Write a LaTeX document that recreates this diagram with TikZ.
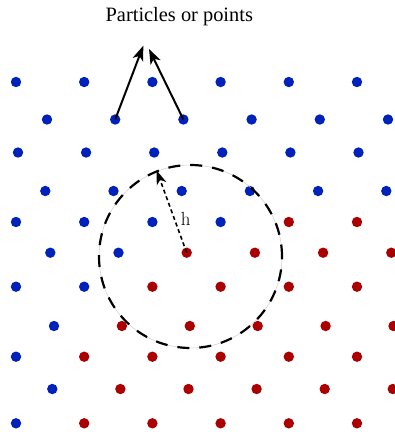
\documentclass[tikz,border=0pt]{standalone}
\usepackage{fontspec}
\newfontfamily\titlefont{Liberation Serif}
\usetikzlibrary{arrows.meta}
\definecolor{pblue}{RGB}{0,34,187}
\definecolor{pred}{RGB}{170,0,0}
\tikzset{
  dot/.style={circle, inner sep=0pt, minimum size=10.4pt, draw=none},
  ptr/.style={line width=2pt, -{Stealth[length=15pt, width=11pt, inset=4pt]}},
  radius line/.style={line width=1.6pt, dash pattern=on 4pt off 3pt, -{Stealth[length=14pt, width=10pt, inset=4pt]}},
  kernel/.style={line width=2.2pt, dash pattern=on 12pt off 10pt},
}
\begin{document}
\begin{tikzpicture}[x=1pt, y=-1pt]
\useasboundingbox (0,0) rectangle (395,432);
\foreach [count=\r] \y/\xa/\dx/\nb in {82/16/68.2/6, 119.5/47/68.2/6, 152.5/18/68.1/6, 191/45.3/68.2/6, 222/16/68.2/4, 252.7/50.3/68.2/2, 286.7/16/68.2/2, 326/54/67.9/1, 356.7/16/68.2/1, 389/52.3/68.1/1, 423.3/16/68.2/1}{
  \foreach \c in {1,...,6}{
    \pgfmathsetmacro\xx{\xa+(\c-1)*\dx}
    \ifnum\c>\nb\def\col{pred}\else\def\col{pblue}\fi
    \node[dot, fill=\col] (d\r-\c) at (\xx,\y) {};
  }
}
% kernel circle
\node[circle, draw=black!20, line width=0.5pt, minimum size=183pt, inner sep=0pt] (kc) at (190.5,256.5) {};
\draw[kernel] (kc.center) circle[radius=91.5pt];
% labels
\node[font=\titlefont\fontsize{20.4}{24}\selectfont, inner sep=0pt] (title) at (179.3,17) {Particles or points};
\node[font=\fontsize{19}{22}\selectfont, anchor=base, inner sep=0pt] (h) at (185.7,225) {h};
% arrows
\coordinate (t1) at (143.3,45.7);
\coordinate (t2) at (149,49);
\coordinate (t3) at (156.7,170.5);
\draw[ptr] (d2-2.center) -- (t1);
\draw[ptr] (d2-3.center) -- (t2);
\draw[radius line] (d6-3.center) -- (t3);
\end{tikzpicture}
\end{document}
